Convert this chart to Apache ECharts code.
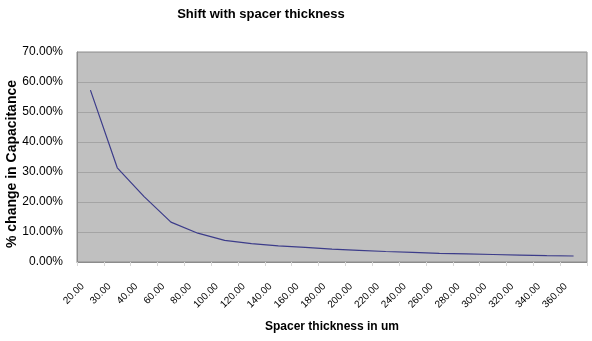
<!DOCTYPE html>
<html>
<head>
<meta charset="utf-8">
<script src="https://cdn.jsdelivr.net/npm/echarts@6/dist/echarts.min.js"></script>
<style>html,body{margin:0;padding:0;background:#fff}#c{width:592px;height:341px}</style>
</head>
<body>
<div id="c"></div>
<script>
var categories = ['20.00','30.00','40.00','60.00','80.00','100.00','120.00','140.00','160.00','180.00','200.00','220.00','240.00','260.00','280.00','300.00','320.00','340.00','360.00'];
var pctChange = [57.3, 31.4, 21.8, 13.3, 9.6, 7.2, 6.1, 5.4, 4.9, 4.3, 3.9, 3.5, 3.2, 2.9, 2.7, 2.5, 2.3, 2.1, 2.0];
var yTicks = {min: 0, max: 70, interval: 10};

var chart = echarts.init(document.getElementById('c'), null, {renderer: 'canvas'});
chart.setOption({
  animation: false,
  backgroundColor: '#ffffff',
  title: {
    text: 'Shift with spacer thickness',
    left: 256, top: 3, textAlign: 'center',
    textStyle: {fontFamily: 'Liberation Sans, Arial, sans-serif', fontSize: 13, fontWeight: 'bold', color: '#000'}
  },
  grid: {
    left: 77, right: 5, top: 52, bottom: 79,
    outerBoundsMode: 'none', containLabel: false,
    show: true, backgroundColor: '#c0c0c0', borderColor: '#8c8c8c', borderWidth: 1
  },
  xAxis: {
    type: 'category',
    data: categories,
    boundaryGap: true,
    name: 'Spacer thickness in um',
    nameLocation: 'middle',
    nameGap: 59,
    nameMoveOverlap: false,
    nameTextStyle: {fontFamily: 'Liberation Sans, Arial, sans-serif', fontSize: 12, fontWeight: 'bold', color: '#000'},
    axisLine: {lineStyle: {color: '#8c8c8c'}},
    axisTick: {show: true, alignWithLabel: false, length: 4, lineStyle: {color: '#d8d8d8'}},
    axisLabel: {rotate: 45, fontFamily: 'Liberation Sans, Arial, sans-serif', fontSize: 10, color: '#000',
      margin: 15, padding: [0, 11, 0, 0], interval: 0}
  },
  yAxis: {
    type: 'value',
    min: yTicks.min, max: yTicks.max, interval: yTicks.interval,
    name: '% change in Capacitance',
    nameLocation: 'middle',
    nameGap: 58,
    nameMoveOverlap: false,
    nameTextStyle: {fontFamily: 'Liberation Sans, Arial, sans-serif', fontSize: 14, fontWeight: 'bold', color: '#000',
      padding: [0, 14, 0, 0]},
    axisLine: {show: true, lineStyle: {color: '#8c8c8c'}},
    axisTick: {show: false},
    axisLabel: {fontFamily: 'Liberation Sans, Arial, sans-serif', fontSize: 12, color: '#000', margin: 14,
      formatter: function (v) { return v.toFixed(2) + '%'; }},
    splitLine: {show: true, lineStyle: {color: '#a4a4a4', width: 1}}
  },
  series: [{
    type: 'line',
    data: pctChange,
    symbol: 'none',
    lineStyle: {color: '#3c3c8a', width: 1.2},
    smooth: false
  }]
});
</script>
</body>
</html>
